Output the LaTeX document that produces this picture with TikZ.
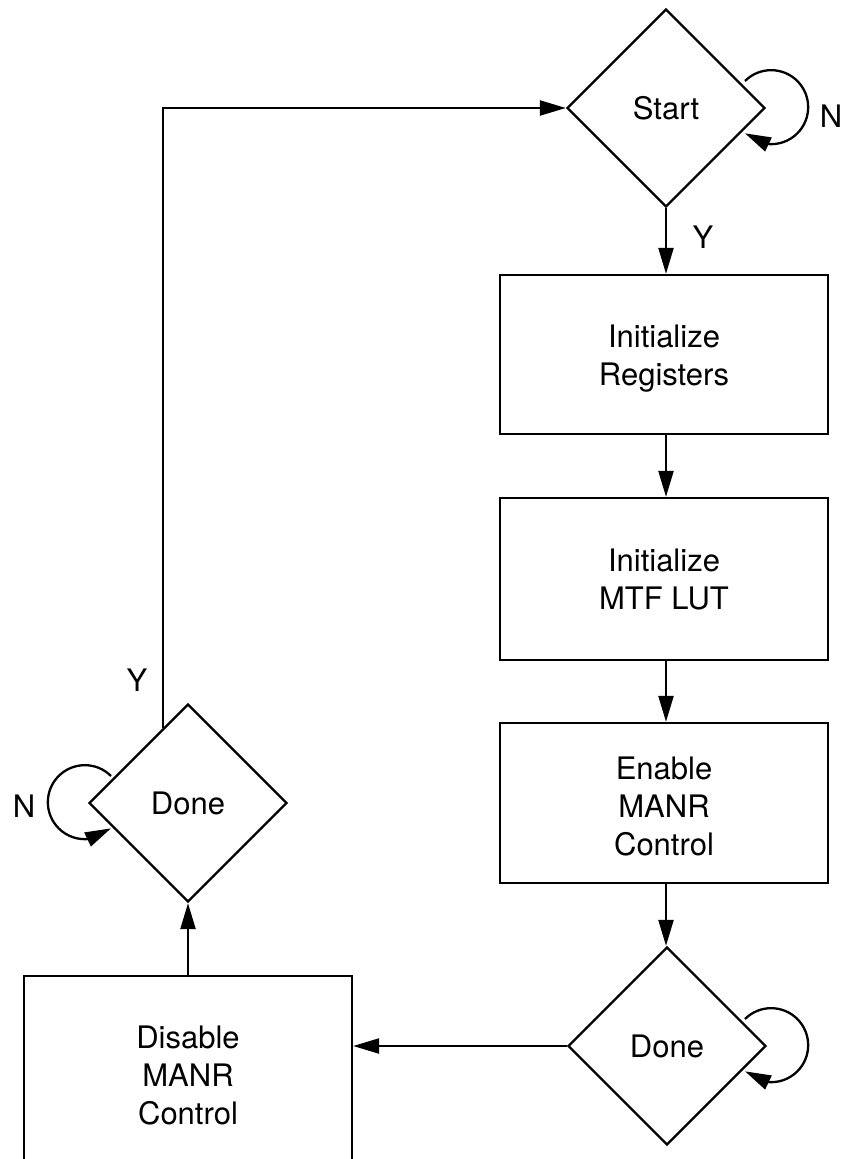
\documentclass[tikz,border=0pt]{standalone}
\usepackage{fontspec}
\setmainfont{TeX Gyre Heros}
\usetikzlibrary{shapes.geometric,arrows.meta,calc,bending}
\begin{document}
\begin{tikzpicture}[x=1pt,y=-1pt,line width=2.3pt,
  every node/.style={font=\fontsize{31}{38}\selectfont},
  stepbox/.style={draw,rectangle,minimum width=328pt,inner sep=0pt,align=center},
  decision/.style={draw,diamond,minimum width=198pt,minimum height=198pt,inner sep=0pt,align=center},
  arr/.style={-{Triangle[width=15pt,length=26pt]}},
  lbl/.style={inner sep=0pt}]
\useasboundingbox (0,0) rectangle (841,1159);
\clip (0,0) rectangle (841,1159);
\node[decision] (start) at (666,108) {Start};
\node[stepbox,minimum height=159pt] (reg) at (664,354.5) {\rule{0pt}{31.5pt}Initialize\\Registers};
\node[stepbox,minimum height=162pt] (lut) at (664,579) {Initialize\\MTF LUT};
\node[stepbox,minimum height=160pt] (en) at (664,803) {\rule{0pt}{29.5pt}Enable\\MANR\\Control};
\node[decision] (doneR) at (667,1046) {Done};
\node[stepbox,minimum height=198pt] (dis) at (188,1075) {Disable\\MANR\\Control};
\node[decision] (doneL) at (188,803) {Done};
\coordinate (up) at ($(doneL.west)!0.75!(doneL.north)$);
% connectors
\draw[arr] (start.south) -- (start.south |- reg.north);
\draw[arr] (reg.south -| start.south) -- (start.south |- lut.north);
\draw[arr] (lut.south -| start.south) -- (start.south |- en.north);
\draw[arr] (en.south -| start.south) -- (start.south |- doneR.north);
\draw[arr] (doneR.west) -- (doneR.west -| dis.east);
\draw[arr] (dis.north) -- (doneL.south);
\draw[arr] (up) |- (start.west);
% self loops
\draw[arr] ($(start.center)+(79,-27)$) arc[start angle=135,end angle=-135,radius=37pt];
\draw[arr] ($(doneR.center)+(78,-27)$) arc[start angle=135,end angle=-135,radius=37pt];
\draw[arr] ($(doneL.center)+(-77,-27)$) arc[start angle=45,end angle=315,radius=37pt];
% labels
\node[lbl] (ystart) at (703,237) {Y};
\node[lbl] (nstart) at (831,116) {N};
\node[lbl] (yleft) at (137,680) {Y};
\node[lbl] (nleft) at (24,806) {N};
\end{tikzpicture}
\end{document}
